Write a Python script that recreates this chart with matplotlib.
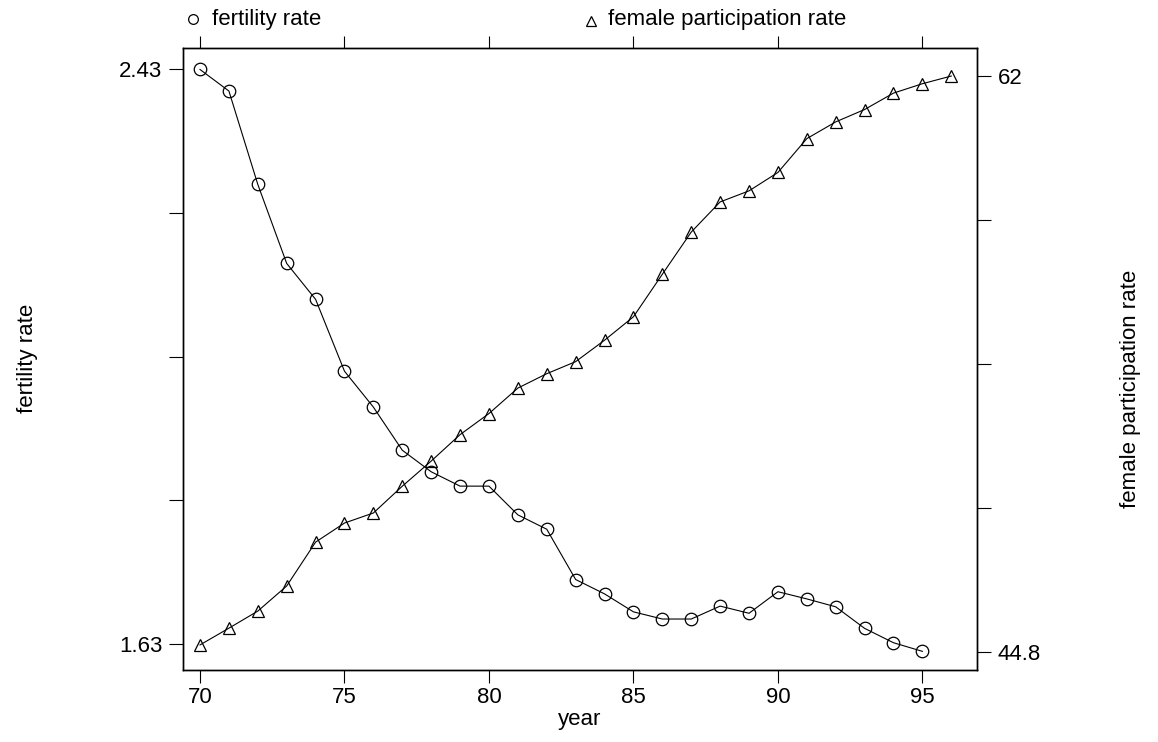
import matplotlib
matplotlib.use("Agg")
import matplotlib.pyplot as plt
from matplotlib.lines import Line2D

plt.rcParams['font.family'] = ['Liberation Sans', 'DejaVu Sans']

# data
years_fert = [70, 71, 72, 73, 74, 75, 76, 77, 78, 79, 80, 81, 82,
              83, 84, 85, 86, 87, 88, 89, 90, 91, 92, 93, 94, 95]
fertility = [2.43, 2.40, 2.27, 2.16, 2.11, 2.01, 1.96, 1.90, 1.87, 1.85,
             1.85, 1.81, 1.79, 1.72, 1.70, 1.675, 1.665, 1.665, 1.683,
             1.673, 1.703, 1.693, 1.682, 1.652, 1.632, 1.62]

years_part = [70, 71, 72, 73, 74, 75, 76, 77, 78, 79, 80, 81, 82, 83,
              84, 85, 86, 87, 88, 89, 90, 91, 92, 93, 94, 95, 96]
participation = [45.01, 45.51, 46.02, 46.77, 48.08, 48.65, 48.95, 49.75,
                 50.50, 51.29, 51.92, 52.68, 53.11, 53.47, 54.11, 54.81,
                 56.08, 57.34, 58.24, 58.57, 59.12, 60.13, 60.63, 61.0,
                 61.49, 61.77, 62.0]

x_ticks = [70, 75, 80, 85, 90, 95]
fert_ticks = [1.63, 1.83, 2.03, 2.23, 2.43]
fert_labels = ['1.63', '', '', '', '2.43']
part_ticks = [44.8, 49.1, 53.4, 57.7, 62.0]
part_labels = ['44.8', '', '', '', '62']

fig = plt.figure(figsize=(11.58, 7.42), dpi=100)
ax = fig.add_axes([0.158, 0.097, 0.6857, 0.838])
ax2 = ax.twinx()

ax.plot(years_fert, fertility, color='black', lw=0.8, marker='o', ms=9,
        mfc='none', mec='black', mew=0.9)
ax2.plot(years_part, participation, color='black', lw=0.8, marker='^', ms=9,
         mfc='none', mec='black', mew=0.9)

ax.set_xlim(69.41, 96.89)
ax.set_ylim(1.594, 2.4596)
ax2.set_ylim(44.26, 62.83)

ax.set_xticks(x_ticks)
ax.set_yticks(fert_ticks)
ax.set_yticklabels(fert_labels)
ax2.set_yticks(part_ticks)
ax2.set_yticklabels(part_labels)

ax.tick_params(axis='x', top=True, labeltop=False, direction='out',
               length=9, width=0.8, labelsize=16, pad=3)
ax.tick_params(axis='y', direction='out', length=10, width=0.8,
               labelsize=16, pad=5)
ax2.tick_params(axis='y', direction='out', length=10, width=0.8,
                labelsize=16, pad=5)

for a in (ax, ax2):
    for s in a.spines.values():
        s.set_linewidth(1.0)

ax.set_xlabel('year', fontsize=16, labelpad=1)

fig.text(0.024, 0.5175, 'fertility rate', rotation=90, fontsize=16,
         ha='center', va='center')
fig.text(0.976, 0.476, 'female participation rate', rotation=90,
         fontsize=16, ha='center', va='center')

# key at the top
fig.add_artist(Line2D([193 / 1158], [1 - 19 / 742], marker='o', ms=7,
                      mfc='none', mec='black', mew=0.9,
                      transform=fig.transFigure))
fig.text(212 / 1158, 1 - 19 / 742, 'fertility rate', fontsize=16,
         va='center', ha='left')
fig.add_artist(Line2D([591 / 1158], [1 - 21 / 742], marker='^', ms=7.5,
                      mfc='none', mec='black', mew=0.9,
                      transform=fig.transFigure))
fig.text(608 / 1158, 1 - 19 / 742, 'female participation rate',
         fontsize=16, va='center', ha='left')

fig.savefig('out.png', dpi=100, facecolor='white')
